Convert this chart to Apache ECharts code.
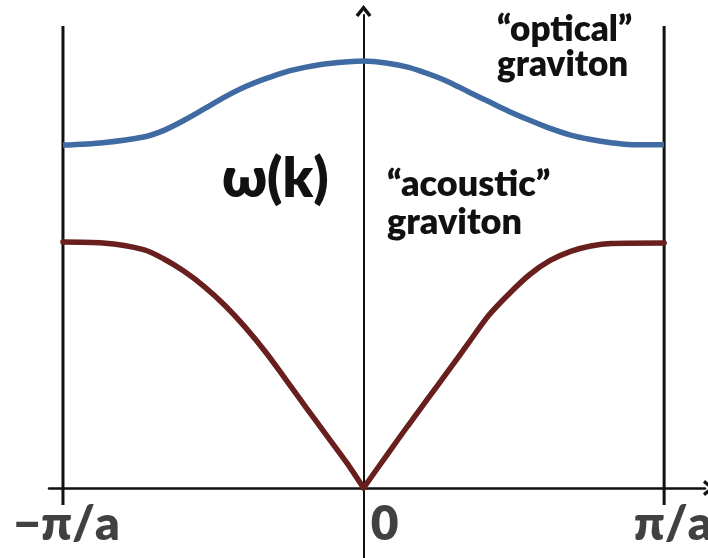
<!DOCTYPE html>
<html>
<head>
<meta charset="utf-8">
<script src="https://cdn.jsdelivr.net/npm/echarts@6/dist/echarts.min.js"></script>
<style>
  html, body { margin: 0; padding: 0; background: #fff; }
  #main { width: 708px; height: 558px; }
</style>
</head>
<body>
<div id="main"></div>
<script>
// k in units of pi/a, omega in units of the acoustic branch maximum
const kOptical = [-1, -0.867, -0.732, -0.664, -0.597, -0.529, -0.461, -0.394, -0.326, -0.258, -0.191, -0.123, 0,
  0.080, 0.147, 0.215, 0.283, 0.350, 0.418, 0.486, 0.553, 0.621, 0.689, 0.756, 0.824, 0.892, 1];
const wOptical = [1.394, 1.404, 1.427, 1.454, 1.495, 1.542, 1.590, 1.631, 1.664, 1.692, 1.711, 1.725, 1.736,
  1.727, 1.711, 1.684, 1.651, 1.610, 1.570, 1.530, 1.495, 1.462, 1.435, 1.417, 1.404, 1.396, 1.396];

const kAcoustic = [-1, -0.867, -0.732, -0.664, -0.597, -0.529, -0.461, -0.394, -0.326, -0.258, -0.191, -0.123, -0.055, 0,
  0.080, 0.147, 0.215, 0.283, 0.350, 0.418, 0.486, 0.553, 0.621, 0.689, 0.756, 0.824, 1];
const wAcoustic = [1.000, 0.996, 0.969, 0.931, 0.881, 0.818, 0.742, 0.654, 0.553, 0.440, 0.327, 0.214, 0.101, 0,
  0.138, 0.252, 0.365, 0.478, 0.591, 0.704, 0.792, 0.868, 0.925, 0.962, 0.984, 0.994, 0.996];

// axis extents, Brillouin zone edges, the omega axis stub below zero, and axis labels
const kRange = [-1.0465, 1.136];
const wRange = [-0.2846, 1.923];
const zoneEdges = [-1, 1];
const edgeRange = [-0.069, 1.878];
const kTicks = [-1, 0, 1];
const kTickLabels = ['\u2212\u03c0/a', '0', '\u03c0/a'];
// label shift from its tick, in k units (the "0" sits right of the omega axis)
const kLabelShift = [0.012, 0.07, 0.03];
const kLabelLevel = -0.15;

const FONT = 'Lato, "Open Sans", sans-serif';
const chevron = 'path://M0,10 L8,0 L16,10 L13.2,12 L8,5.6 L2.8,12 Z';

function zip(xs, ys) {
  return xs.map((x, i) => [x, ys[i]]);
}

// acoustic branch has a sharp cusp at k = 0, so draw each side on its own
const acousticPts = zip(kAcoustic, wAcoustic);
const acousticLeft = acousticPts.filter((p) => p[0] <= 0);
const acousticRight = acousticPts.filter((p) => p[0] >= 0);

const chart = echarts.init(document.getElementById('main'), null, { renderer: 'canvas' });

let edgeSeries = zoneEdges.map((k) => ({
  type: 'line',
  data: edgeRange.map((w) => [k, w]),
  showSymbol: false,
  silent: true,
  lineStyle: { color: '#111', width: 3 },
  z: 3
}));

// tick labels placed through the axes' scales
let labelSeries = {
  type: 'scatter',
  silent: true,
  symbolSize: 0,
  data: kTicks.map((k, i) => ({ value: [k + kLabelShift[i], kLabelLevel], name: kTickLabels[i] })),
  label: {
    show: true,
    position: 'inside',
    formatter: '{b}',
    fontFamily: FONT,
    fontWeight: 800,
    fontSize: 48,
    color: '#111'
  },
  z: 5
};

let acousticStyle = {
  type: 'line',
  smooth: 0.3,
  showSymbol: false,
  lineStyle: { color: '#6a1f1f', width: 5.5, cap: 'round' },
  z: 4
};

let option = {
  animation: false,
  backgroundColor: '#fff',
  grid: { left: 49, right: 3, top: 15, bottom: 0, containLabel: false, outerBoundsMode: 'none' },
  xAxis: {
    type: 'value',
    min: kRange[0],
    max: kRange[1],
    splitLine: { show: false },
    axisTick: { show: false },
    axisLabel: { show: false },
    axisLine: {
      onZero: true,
      lineStyle: { color: '#111', width: 2.5 },
      symbol: ['none', chevron],
      symbolSize: [16, 12],
      symbolOffset: [0, 4]
    }
  },
  yAxis: {
    type: 'value',
    min: wRange[0],
    max: wRange[1],
    splitLine: { show: false },
    axisTick: { show: false },
    axisLabel: { show: false },
    axisLine: {
      onZero: true,
      lineStyle: { color: '#111', width: 2 },
      symbol: ['none', chevron],
      symbolSize: [16, 12],
      symbolOffset: [0, 4]
    }
  },
  graphic: [
    {
      type: 'text', left: 222, top: 152,
      style: { text: '\u03c9(k)', font: '800 55px ' + FONT, fill: '#111' }
    },
    {
      type: 'text', left: 387, top: 165,
      style: { text: '\u201cacoustic\u201d\ngraviton', font: '800 36px ' + FONT, lineHeight: 38, fill: '#111' }
    },
    {
      type: 'text', left: 497, top: 12,
      style: { text: '\u201coptical\u201d\ngraviton', font: '800 35px ' + FONT, lineHeight: 35, fill: '#111' }
    }
  ],
  series: [
    {
      name: 'optical',
      type: 'line',
      data: zip(kOptical, wOptical),
      smooth: 0.3,
      showSymbol: false,
      lineStyle: { color: '#3f6ba2', width: 5.5 },
      z: 4
    },
    Object.assign({ name: 'acoustic', data: acousticLeft }, acousticStyle),
    Object.assign({ name: 'acoustic', data: acousticRight }, acousticStyle),
    labelSeries
  ].concat(edgeSeries)
};

chart.setOption(option);
</script>
</body>
</html>
